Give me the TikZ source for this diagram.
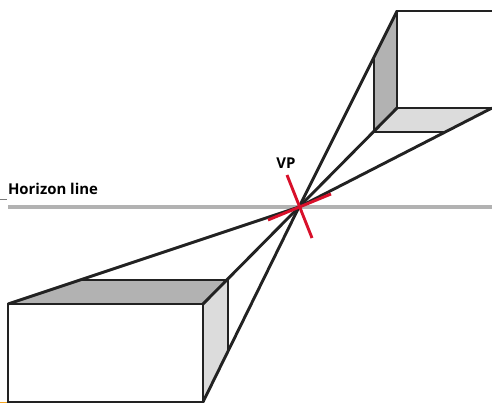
\documentclass[tikz,border=0pt]{standalone}
\usepackage{fontspec}
\setmainfont{Open Sans}
\definecolor{edgedark}{HTML}{222222}
\definecolor{facemid}{HTML}{B2B2B2}
\definecolor{facelight}{HTML}{DCDCDC}
\definecolor{markred}{HTML}{D8102A}
\definecolor{tickorange}{HTML}{F5A623}
\tikzset{
  edge/.style={draw=edgedark, line width=1.65pt, line join=miter},
  horizon/.style={draw=facemid, line width=1.8pt},
  mark line/.style={draw=markred, line width=1.65pt},
  label text/.style={font=\fontsize{8.5}{10}\selectfont\bfseries, text=black, inner sep=0pt}
}
\begin{document}
\begin{tikzpicture}[x=0.02cm, y=-0.02cm]
\useasboundingbox (0,0) rectangle (492,403);
\coordinate (vp) at (299,207);
\coordinate (ha) at (8,207);
\coordinate (hb) at (492,207);
\coordinate (ra) at (287,175);
\coordinate (rb) at (312,238);
\coordinate (rc) at (268,220);
\coordinate (rd) at (331,194);
\coordinate (ta) at (397,11);
\coordinate (tb) at (492,11);
\coordinate (tc) at (397,108);
\coordinate (td) at (492,108);
\coordinate (te) at (374,132);
\coordinate (tf) at (374,59);
\coordinate (tg) at (445,132);
\coordinate (la) at (8,304);
\coordinate (lb) at (203,304);
\coordinate (lc) at (203,402);
\coordinate (ld) at (8,402);
\coordinate (le) at (82,280);
\coordinate (lf) at (228,280);
\coordinate (lg) at (228,351);

\node[label text] (hl) at (53,189) {Horizon line};
\node[label text] (vl) at (286,163.5) {VP};

\draw[draw=edgedark!60, line width=0.4pt] (0,199) -- (7,199);
\draw[draw=tickorange, line width=0.6pt] (0,402.5) -- (7,402.5);

% faces
\fill[facemid] (ta) -- (tc) -- (te) -- (tf) -- cycle;
\fill[facelight] (tc) -- (td) -- (tg) -- (te) -- cycle;
\fill[facemid] (la) -- (le) -- (lf) -- (lb) -- cycle;
\fill[facelight] (lb) -- (lf) -- (lg) -- (lc) -- cycle;

\draw[horizon] (ha) -- (hb);

% top box
\draw[edge] (tb) -- (ta) -- (tc) -- (td);
\draw[edge] (tf) -- (te) -- (tg);
\draw[edge] (vp) -- (ta);
\draw[edge] (vp) -- (tc);
\draw[edge] (vp) -- (td);

% bottom box
\draw[edge] (la) rectangle (lc);
\draw[edge] (le) -- (lf) -- (lg);
\draw[edge] (vp) -- (la);
\draw[edge] (vp) -- (lb);
\draw[edge] (vp) -- (lc);

\draw[mark line] (ra) -- (rb);
\draw[mark line] (rc) -- (rd);
\end{tikzpicture}
\end{document}
